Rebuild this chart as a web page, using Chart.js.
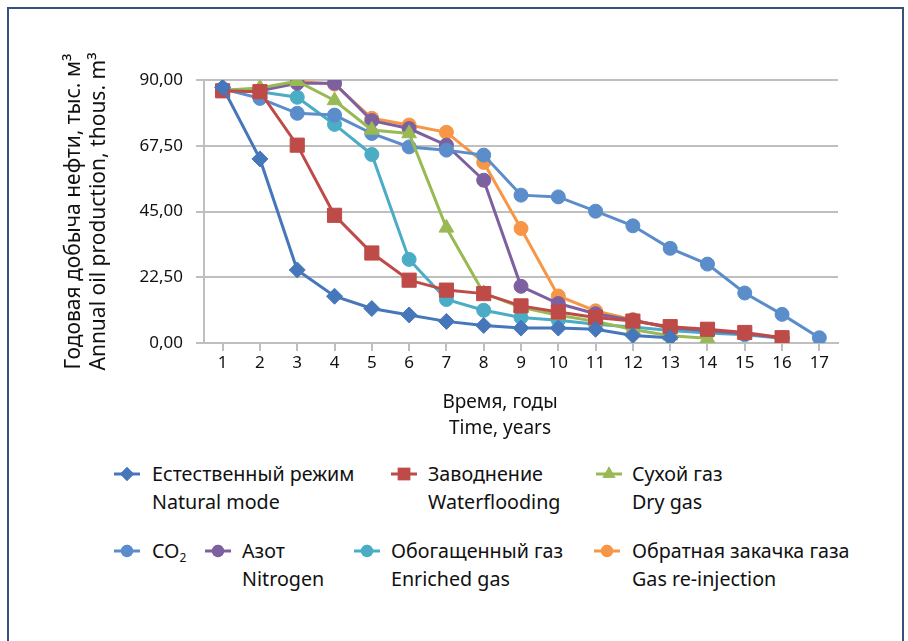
<!DOCTYPE html>
<html>
<head>
<meta charset="utf-8">
<script src="https://cdn.jsdelivr.net/npm/chart.js@4.4.1/dist/chart.umd.min.js"></script>
<style>
    html, body { margin: 0; padding: 0; background: #fff; overflow: hidden; }
    body { width: 908px; height: 641px; position: relative; font-family: 'Noto Sans', sans-serif; }
    .frame { position: absolute; left: 7px; top: 7px; width: 893px; height: 700px; border: 2px solid #35517f; }
    .chart-box { position: absolute; left: 0; top: 0; width: 908px; height: 445px; }
    .legend-item { position: absolute; font-size: 19.7px; line-height: 27.5px; color: #111; white-space: nowrap; }
    .legend-mark { position: absolute; }
    sub { font-size: 12px; vertical-align: -4px; line-height: 0; }
</style>
</head>
<body>
<div class="frame"></div>
<div class="chart-box"><canvas id="oilChart" width="908" height="445"></canvas></div>
<div id="legend"></div>
<script>
// years on the x axis
const years = ['1', '2', '3', '4', '5', '6', '7', '8', '9', '10', '11', '12', '13', '14', '15', '16', '17'];

// annual oil production, thous. m3
const naturalMode = [87.5, 63.0, 25.0, 16.0, 11.8, 9.6, 7.4, 6.0, 5.1, 5.1, 4.7, 2.6, 1.8, null, null, null, null];
const waterflooding = [86.3, 86.0, 67.7, 43.7, 30.8, 21.5, 18.1, 16.9, 12.7, 10.6, 8.7, 7.5, 5.6, 4.7, 3.6, 1.8, null];
const dryGas = [86.5, 87.3, 89.6, 83.0, 72.9, 71.7, 39.4, 17.0, 12.2, 9.5, 7.4, 4.6, 2.5, 1.6, null, null, null];
const co2 = [87.0, 83.7, 78.6, 78.0, 71.7, 67.1, 66.0, 64.3, 50.6, 50.0, 45.1, 40.1, 32.4, 27.0, 17.1, 9.8, 1.8];
const nitrogen = [86.5, 86.3, 88.9, 88.9, 76.1, 73.4, 67.7, 55.7, 19.4, 13.5, 10.0, 7.8, 5.2, 4.2, 3.2, 1.8, null];
const enrichedGas = [86.5, 86.0, 84.1, 74.8, 64.5, 28.6, 14.9, 11.2, 8.7, 7.8, 6.4, 5.5, 4.3, 3.4, 2.8, 1.6, null];
const gasReinjection = [86.5, 86.3, 89.5, 88.6, 76.9, 74.6, 72.1, 61.8, 39.2, 16.1, 11.0, 8.0, 5.0, 4.2, 3.2, 1.8, null];

// y axis ticks
const yTicks = [0, 22.5, 45, 67.5, 90];

// series names (ru / en)
const seriesNames = [
    ['Естественный режим', 'Natural mode'],
    ['Заводнение', 'Waterflooding'],
    ['Сухой газ', 'Dry gas'],
    ['CO<sub>2</sub>', ''],
    ['Азот', 'Nitrogen'],
    ['Обогащенный газ', 'Enriched gas'],
    ['Обратная закачка газа', 'Gas re-injection']
];

// series look
const seriesStyle = [
    { color: '#4677ba', point: 'rectRot', radius: 8 },
    { color: '#be4b48', point: 'rect', radius: 10 },
    { color: '#98b954', point: 'triangle', radius: 8.5 },
    { color: '#5b8dcb', point: 'circle', radius: 7 },
    { color: '#7d60a0', point: 'circle', radius: 7 },
    { color: '#4bacc6', point: 'circle', radius: 7 },
    { color: '#f79646', point: 'circle', radius: 7 }
];

// legend placement: text left/top, marker center
const legendPos = [
    { x: 152, y: 460, mx: 127, my: 474 },
    { x: 428, y: 460, mx: 404, my: 474 },
    { x: 632, y: 460, mx: 609, my: 474 },
    { x: 152, y: 537, mx: 127, my: 551 },
    { x: 242, y: 537, mx: 218, my: 551 },
    { x: 391, y: 537, mx: 367, my: 551 },
    { x: 632, y: 537, mx: 607, my: 551 }
];

const seriesData = [naturalMode, waterflooding, dryGas, co2, nitrogen, enrichedGas, gasReinjection];

function buildDatasets() {
    return seriesData.map((values, i) => ({
        label: seriesNames[i].join(' ').replace(/<[^>]+>/g, ''),
        data: values,
        borderColor: seriesStyle[i].color,
        backgroundColor: seriesStyle[i].color,
        borderWidth: 3,
        pointStyle: seriesStyle[i].point,
        pointRadius: seriesStyle[i].radius,
        pointBorderWidth: 1,
        pointBackgroundColor: seriesStyle[i].color,
        pointBorderColor: seriesStyle[i].color,
        tension: 0,
        spanGaps: false
    }));
}

//..html legend with two-line labels
function buildLegend() {
    const box = document.getElementById('legend');
    seriesStyle.forEach((st, i) => {
        const pos = legendPos[i];
        const mark = document.createElement('canvas');
        mark.className = 'legend-mark';
        mark.width = 30;
        mark.height = 22;
        mark.style.left = (pos.mx - 15) + 'px';
        mark.style.top = (pos.my - 11) + 'px';
        const ctx = mark.getContext('2d');
        ctx.strokeStyle = st.color;
        ctx.lineWidth = 3;
        ctx.beginPath();
        ctx.moveTo(2, 11);
        ctx.lineTo(28, 11);
        ctx.stroke();
        ctx.fillStyle = st.color;
        Chart.helpers.drawPoint(ctx, { pointStyle: st.point, radius: st.radius * 0.88, borderWidth: 0 }, 15, 11);
        ctx.fill();
        box.appendChild(mark);

        const item = document.createElement('div');
        item.className = 'legend-item';
        item.style.left = pos.x + 'px';
        item.style.top = pos.y + 'px';
        item.innerHTML = seriesNames[i][0] + '<br>' + seriesNames[i][1];
        box.appendChild(item);
    });
}

function createChart() {
    const ctx = document.getElementById('oilChart');
    new Chart(ctx, {
        type: 'line',
        data: { labels: years, datasets: buildDatasets() },
        options: {
            responsive: false,
            animation: false,
            layout: { padding: { top: 80, right: 70, bottom: 4, left: 0 } },
            scales: {
                x: {
                    offset: true,
                    afterFit: (scale) => { scale.height = 98; },
                    grid: { offset: false, drawOnChartArea: false, drawTicks: true, tickLength: 8, color: '#bfbfbf', lineWidth: 2 },
                    border: { color: '#bfbfbf', width: 2 },
                    ticks: { color: '#111', font: { family: 'Noto Sans', size: 17 }, padding: 2, maxRotation: 0, autoSkip: false },
                    title: { display: false }
                },
                y: {
                    min: 0,
                    max: 90,
                    afterFit: (scale) => { scale.width = 204; },
                    afterBuildTicks: (scale) => { scale.ticks = yTicks.map(v => ({ value: v })); },
                    grid: { color: '#bfbfbf', lineWidth: 2, tickLength: 8 },
                    border: { color: '#bfbfbf', width: 2 },
                    ticks: {
                        color: '#111',
                        font: { family: 'Noto Sans', size: 17 },
                        padding: 13,
                        callback: (v) => Number(v).toFixed(2).replace('.', ',')
                    },
                    title: {
                        display: true,
                        text: ['Годовая добыча нефти, тыс. м³', 'Annual oil production, thous. m³'],
                        color: '#111',
                        font: { family: 'Noto Sans', size: 21, lineHeight: 1.19 },
                        padding: { top: 62, bottom: 0 }
                    }
                }
            },
            plugins: {
                legend: { display: false },
                tooltip: { enabled: false }
            }
        }
    });
}

//..x axis title sits a little left of the plot centre, as in the source
function buildXTitle() {
    const t = document.createElement('div');
    t.className = 'legend-item';
    t.style.fontSize = '19px';
    t.style.lineHeight = '26px';
    t.style.left = '400px';
    t.style.width = '200px';
    t.style.textAlign = 'center';
    t.style.top = '388px';
    t.innerHTML = 'Время, годы<br>Time, years';
    document.body.appendChild(t);
}

document.addEventListener('DOMContentLoaded', function () {
    createChart();
    buildLegend();
    buildXTitle();
});
</script>
</body>
</html>
